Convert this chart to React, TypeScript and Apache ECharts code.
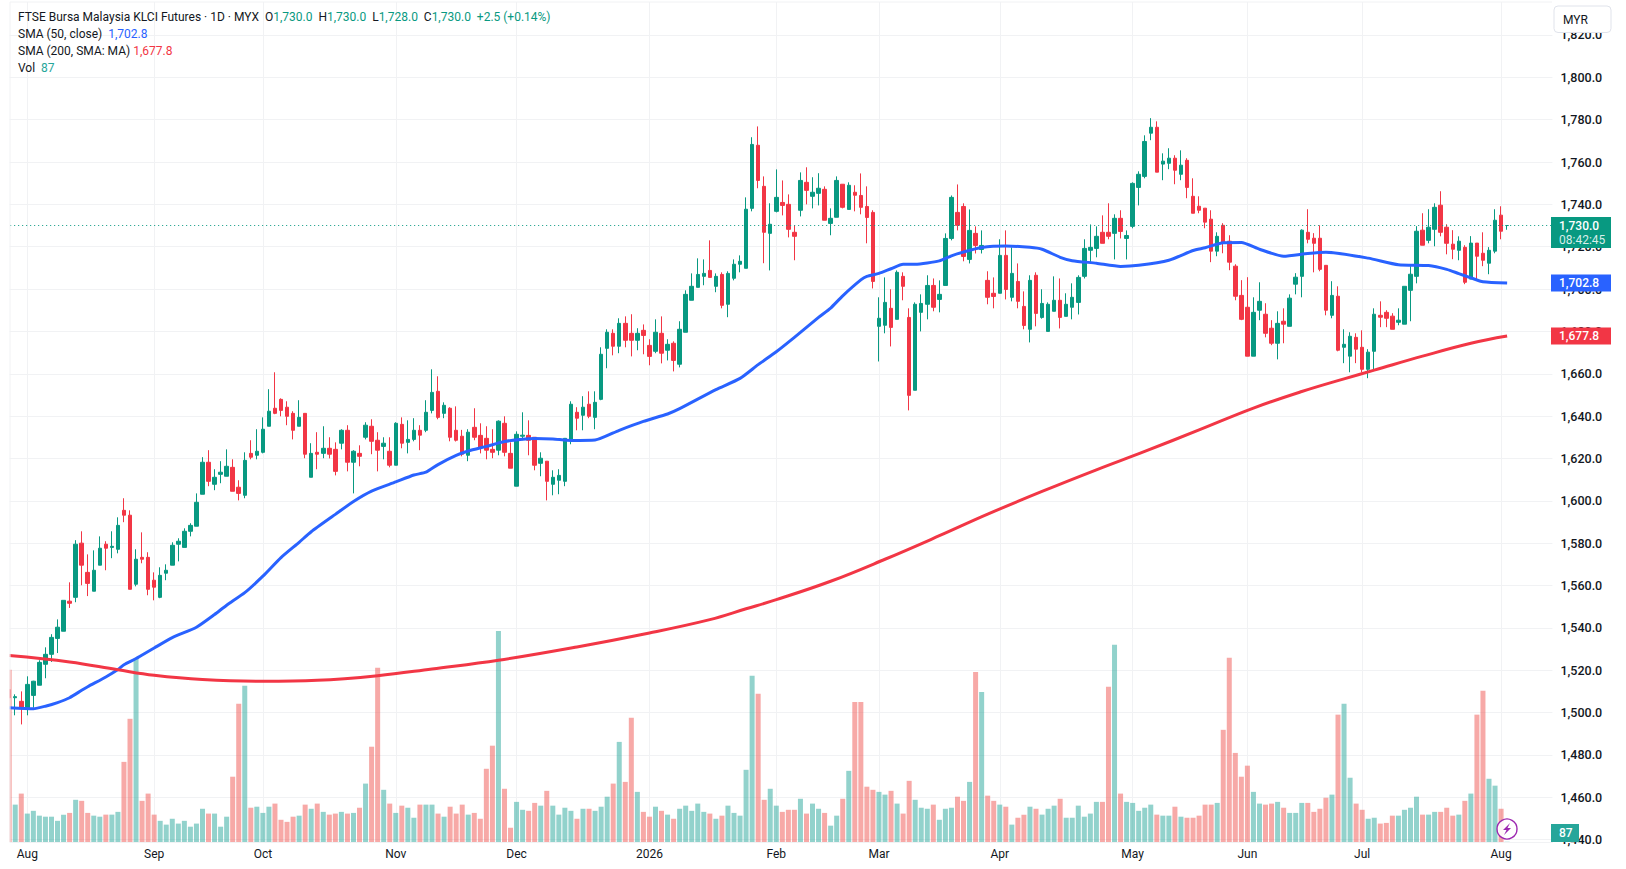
import React, { useEffect, useRef } from "react";
import * as echarts from "echarts";

const UP = "#089981";
const DOWN = "#F23645";
const BLUE = "#2962FF";
const VOL_UP = "rgba(38,166,154,0.5)";
const VOL_DOWN = "rgba(239,83,80,0.5)";
const GRID_COLOR = "#F1F2F4";
const FONT = "Roboto, 'Noto Sans', sans-serif";

// [open, high, low, close]
const candles: number[][] = [
[1510.8,1513,1503,1507],[1507,1508.6,1498.7,1507.5],[1505.3,1510,1494.4,1501.8],[1501.5,1517.1,1498.7,1513.3],[1508.1,1515,1502.3,1514.8],
[1512.9,1524.7,1512.9,1523.7],[1522.8,1530.8,1516.2,1527.5],[1527.5,1537,1523.9,1535.5],[1535,1544,1528.1,1540.3],[1538.4,1553,1538.4,1553],
[1552.6,1561.5,1549.4,1551.6],[1554.4,1581.4,1552.1,1579.5],[1580,1585.6,1560.1,1569.6],[1566.2,1574.7,1555,1561],[1557.3,1576.6,1557.3,1567.2],
[1569.6,1583.2,1569.6,1577.6],[1579.5,1580.9,1567.2,1577.6],[1578,1585.6,1572.9,1578.5],[1577.1,1592.2,1575.2,1588.4],[1595.5,1601.2,1589.9,1593.2],
[1593.2,1595.5,1558.2,1558.2],[1560.6,1577.1,1559.6,1572.4],[1573.3,1585.1,1570.5,1572.4],[1573.3,1575.7,1555.4,1558.2],[1562.5,1566.2,1553,1559.2],
[1554.4,1568.6,1554,1564.8],[1565.8,1570,1562.5,1567.2],[1569.6,1580.4,1569.6,1579],[1579.5,1582.3,1571.4,1580.9],[1578,1587,1578,1585.6],
[1585.6,1589.4,1583.2,1588.4],[1588,1603.5,1588,1599.3],[1603.1,1620.6,1603.1,1618.2],[1618.2,1623.9,1606.9,1609.2],[1607.8,1614.9,1605,1611.1],
[1612.5,1618.7,1608.3,1613.5],[1611.6,1624.3,1611.6,1616.3],[1615.8,1619.6,1604.5,1604.5],[1606.4,1609.7,1600.2,1603.5],[1602.6,1622.9,1601.2,1619.1],
[1622.4,1628.6,1619.6,1620.6],[1621.5,1633.8,1619.6,1623.4],[1622.9,1639.4,1622.4,1633.8],[1635.2,1652.7,1635.2,1642.3],[1643.7,1660.7,1640.9,1641.3],
[1647.9,1648.4,1639.9,1642.7],[1644.2,1647,1635.7,1639.9],[1641.3,1642.3,1629,1633.3],[1635.2,1647.5,1635.2,1639.4],[1641.3,1641.3,1620.1,1622],
[1611.1,1627.2,1611.1,1622.4],[1622.9,1632.4,1614.9,1622],[1622.4,1635.2,1620.1,1624.8],[1624.8,1630,1620,1622],[1624.3,1627.6,1612,1613.9],
[1627.2,1633.8,1624.3,1633.3],[1633.3,1635.7,1613.9,1618.2],[1618.2,1623.9,1603.5,1623.4],[1622.4,1626.2,1616.3,1621],[1630,1637.1,1629,1635.7],
[1635.2,1638.5,1622,1628.1],[1628.6,1632.4,1613.9,1623.9],[1625.7,1630,1619.6,1627.2],[1623.4,1630,1615.8,1616.8],[1616.8,1637.1,1616.8,1636.6],
[1636.1,1639.4,1624.8,1627.2],[1627.6,1638,1622.4,1629],[1629,1639,1628.1,1633.3],[1633.3,1635.7,1623.9,1631],[1633.3,1647.5,1632.4,1641.8],
[1642.7,1662.1,1641.3,1651.2],[1651.7,1658.8,1638.5,1639.4],[1641.3,1646.5,1639,1645.1],[1643.7,1644.2,1628.1,1630],[1633.3,1644.6,1628,1628.6],
[1630.5,1633.5,1621,1622],[1621.5,1633.8,1618.7,1632.4],[1634.7,1643.7,1628.6,1630],[1630.9,1636.6,1622.4,1625.3],[1629.5,1635.2,1619.6,1623.9],
[1624.3,1633.8,1620.1,1622.9],[1623.9,1638,1621.5,1637.6],[1636.6,1639.9,1621,1622.9],[1622.4,1627.6,1615.4,1615.4],[1606.9,1632.8,1606.9,1631.4],
[1630.5,1641.8,1628.6,1631],[1630.9,1638,1621.5,1628.6],[1630,1630,1614.4,1616.8],[1617.7,1622.9,1611.6,1620.1],[1618.7,1618.7,1600.2,1609.2],
[1607.8,1614.4,1602.6,1611.1],[1609.7,1614.9,1603.1,1612],[1609.2,1629.5,1606.9,1629.5],[1628.6,1647,1626.7,1645.6],[1641.8,1644.2,1633.3,1639],
[1640.4,1649.4,1633.3,1644.2],[1645.6,1651.7,1639,1639.9],[1639.4,1651.7,1633.8,1646.5],[1647.9,1672.5,1647.5,1669.2],[1672,1681,1662.6,1679.6],
[1679.1,1681,1668.7,1673],[1673,1686.2,1669.7,1683.8],[1683.8,1687.1,1672.5,1675.8],[1679.1,1688.1,1668.2,1675.8],[1675.8,1681.5,1671.1,1679.1],
[1680.5,1683.3,1669.2,1678.1],[1673.4,1676.3,1664,1668.2],[1670.6,1685.7,1669.7,1679.6],[1679.1,1687.1,1664.9,1669.7],[1671.1,1676.3,1666.3,1673.9],
[1674.4,1675.3,1661.1,1666.3],[1664.5,1684.8,1663,1681],[1679.6,1699.4,1679.6,1697.5],[1694.7,1707.4,1694.7,1701.3],[1700.8,1714.5,1700.8,1706.9],
[1706,1714,1701.8,1707.4],[1708.8,1723,1705.5,1705.5],[1701.3,1707.4,1698.5,1706],[1706.9,1707.9,1690.9,1692.3],[1692.8,1708.4,1686.7,1707.4],
[1705.1,1714,1704.1,1711.7],[1711.7,1715.9,1707.9,1713.1],[1709.8,1743.3,1709.8,1737.7],[1738.1,1771.7,1736.7,1768.3],[1767.9,1776.8,1747.6,1751.3],
[1748.5,1753.2,1712.2,1726.8],[1726.3,1740.5,1708.8,1730.6],[1736.7,1756.5,1736.2,1743.3],[1740.9,1751.3,1734.8,1739.5],[1740,1744.7,1724.4,1728.2],
[1726.8,1730.1,1713.6,1724.9],[1737.2,1755.1,1734.3,1751.3],[1750.4,1757.5,1740,1746.6],[1743.8,1752.8,1738.1,1745.7],[1745.2,1754.7,1739.5,1747.6],
[1747.1,1748.5,1732.5,1732.5],[1731,1738.1,1725.4,1733.4],[1733.9,1753.2,1733.9,1751.3],[1749.5,1749.5,1738.1,1738.6],[1737.6,1750.4,1737.6,1749],
[1745.7,1749,1736.7,1744.3],[1744.2,1754.6,1735.3,1738.6],[1739,1748.5,1721.6,1733.8],[1736.2,1737.2,1700.3,1703.6],[1682.4,1696.1,1665.8,1686.2],
[1682.9,1705.5,1679.1,1693.7],[1690.9,1699.9,1672.9,1681.9],[1685.7,1708.8,1685.7,1707.9],[1706,1707.9,1694.7,1701.3],[1686.6,1690.9,1642.7,1649.8],
[1652.2,1693.7,1652.2,1692.8],[1689,1697.5,1680,1693.2],[1692.8,1706.5,1685.7,1701.7],[1701.7,1705,1689.5,1691.4],[1695.1,1704.1,1689,1697.5],
[1701.7,1726.3,1701.7,1723.9],[1723.9,1744.2,1723,1743.3],[1736.2,1749.4,1727.7,1730.1],[1739,1740.5,1713.1,1715.4],[1714,1737.6,1712.1,1727.7],
[1726.3,1729.6,1716.8,1720.6],[1718.7,1727.7,1716.8,1720.6],[1704.1,1708.4,1692.8,1696.1],[1698,1705.5,1690.9,1696.5],[1698,1723.5,1698,1715.9],
[1715.9,1727.7,1695.1,1699.8],[1696.1,1719.7,1694.2,1707.4],[1703.6,1712.1,1690.9,1694.2],[1691.8,1698.9,1681,1682.8],[1681,1706.5,1674.8,1704.1],
[1706.5,1707.9,1682.4,1688.5],[1686.6,1699.9,1686,1693.2],[1680,1693.7,1680,1692.8],[1689.5,1706,1689.5,1694.7],[1694.7,1705,1681.4,1686.6],
[1687.1,1698,1687.1,1692.8],[1691.4,1702.7,1685.7,1696.1],[1693.7,1706.5,1688,1705.5],[1706,1723.5,1705,1719.2],[1718.3,1730.5,1712.6,1719.7],
[1719.2,1729.6,1715,1724.9],[1726.8,1734.8,1721.6,1721.6],[1726.8,1740.5,1723.5,1724.9],[1726.3,1735.3,1714,1733.4],[1733.4,1737.2,1723.9,1727.2],
[1723.9,1727.7,1714,1725.3],[1729.6,1750.4,1728.7,1749.9],[1748,1755.6,1739.5,1754.2],[1753.2,1772.6,1752.3,1769.7],[1773.6,1780.7,1770.3,1776.4],
[1776.4,1779.2,1755.2,1755.2],[1759,1764.1,1751.4,1760.4],[1759.4,1766.5,1756.6,1761.8],[1761.8,1763.2,1749.5,1756.1],[1754.2,1765.5,1751.4,1758.5],
[1760.8,1761.8,1742.9,1748],[1743.8,1752.3,1735.8,1735.8],[1739.1,1743.8,1735.8,1737.2],[1738.2,1738.2,1728.7,1731.6],[1733,1737.2,1712.7,1717.9],
[1717.9,1726.8,1715.5,1724.9],[1730.1,1731.1,1716.9,1722.1],[1722.6,1725.4,1708.9,1712.7],[1710.8,1711.7,1694.7,1696.6],[1697,1704.2,1685.3,1685.7],
[1691.4,1705.6,1668.3,1668.3],[1668.3,1696.1,1668.3,1689],[1690,1703.2,1685.3,1694.2],[1688.1,1693.3,1677.2,1679.1],[1681.5,1685.3,1673.5,1674.4],
[1674.4,1689.5,1666.8,1683.8],[1684.8,1690.9,1674.4,1683.4],[1682.4,1697.5,1682.4,1695.7],[1702.3,1707.5,1697.5,1705.6],[1706,1728.2,1696.1,1727.8],
[1726.8,1737.7,1721.6,1723.5],[1724,1726.4,1707.9,1721.6],[1724,1730.1,1708.4,1709.3],[1711.2,1711.2,1687.6,1690],[1687.6,1703.7,1686.2,1697],
[1696.6,1701.3,1670.6,1671.1],[1672.5,1681,1665,1673.9],[1668.3,1679.6,1660.7,1677.7],[1677.2,1679.1,1665,1671.6],[1672.5,1680.5,1660.7,1662.1],
[1662.1,1671.6,1657.9,1670.2],[1670.6,1690.9,1661.7,1688.1],[1687.6,1694.2,1682,1686.7],[1689,1690,1682,1686.2],[1687.2,1688.6,1681,1681],
[1684.3,1690.9,1682.9,1685.3],[1683.4,1701.3,1683.4,1701.3],[1699.4,1710.8,1684.8,1707],[1706,1729.7,1702.7,1727.3],[1727.8,1735.8,1720.7,1720.7],
[1723,1737.7,1721.6,1729.2],[1728.2,1740.5,1720.2,1738.6],[1739.6,1746.2,1724.9,1726.8],[1729.2,1730.6,1716.4,1721.6],[1721.2,1727.8,1714.1,1718.8],
[1718.3,1724.9,1713.6,1722.6],[1719.7,1720.7,1702.3,1703.2],[1704.7,1725,1704.7,1721.7],[1721.7,1721.7,1704.7,1715.5],[1716.9,1726.8,1710.8,1713.6],
[1712.2,1719.8,1707,1718.3],[1717.9,1737.7,1716.9,1732.5],[1734.9,1739.1,1723.5,1727.3],[1730,1730,1728,1730],
];

const volumes: number[] = [
5074,1164,1484,904,984,844,814,814,694,874,924,1304,1274,924,844,814,874,874,954,2404,
3654,5414,1274,1484,874,694,584,754,614,694,524,614,1044,904,904,524,814,1974,4094,4614,
1074,1104,924,1104,1194,724,664,814,844,1164,1044,1194,954,874,904,954,904,924,1074,1774,
2844,5134,1594,1194,924,1134,1074,784,1164,1164,1164,904,814,1104,904,1164,874,924,754,2204,
2874,6204,1624,494,1244,1014,984,1214,1134,1564,1134,874,1074,984,754,1044,1044,984,1104,1394,
1774,2984,1824,3684,1534,954,814,1104,984,874,754,1044,1134,984,1194,954,904,754,844,1134,
924,844,2174,4904,4384,1304,1624,1134,954,1014,1014,1334,904,1194,1044,924,554,844,1334,2144,
4144,4144,1684,1594,1534,1454,1564,1194,904,1854,1304,1074,1044,1164,724,1044,1074,1394,1274,1824,
5014,4434,1424,1274,1164,1104,584,784,874,1104,1044,874,1044,1134,1334,784,784,1134,814,904,
1244,1244,4584,5804,1484,1244,1214,984,1074,1164,874,844,844,1104,814,784,784,844,1164,1164,
1214,3334,5424,2664,1974,2294,1534,1194,1164,1194,1244,1074,924,924,1214,1214,954,1044,1364,1454,
3774,4094,1944,1194,1014,754,784,614,634,844,844,1014,1074,1394,874,874,954,954,1074,844,
874,1274,1484,3774,4464,1914,1714,1044,87,
];

// [bar index, value] at intervals
const sma50Points: number[][] = [
[0,1502.3],[4,1501.8],[6,1503],[8,1504.7],[10,1507],[12,1510.5],[13,1512.2],[16,1516.8],[18,1520.3],[19,1522.6],[21,1525.5],[24,1530.5],[27,1535.4],[31,1540.3],[34,1546.3],[36,1550.7],[39,1556.6],[42,1564.4],[45,1573.2],[48,1580.4],[50,1585.4],[54,1593.6],[57,1599.7],[60,1604.6],[64,1608.9],[67,1612.2],[69,1613.5],[71,1617.1],[74,1621.4],[76,1623.5],[79,1625.7],[82,1628],[85,1629.1],[87,1629.4],[90,1629.2],[93,1628.5],[97,1628.7],[101,1633.3],[105,1637.5],[109,1641],[111,1643.5],[117,1652.5],[121,1657.8],[124,1664.3],[127,1670.4],[130,1677.2],[134,1686.6],[136,1691],[138,1696.8],[141,1704.3],[142,1706],[144,1707.4],[146,1709.6],[148,1711.7],[150,1711.7],[154,1713.3],[156,1715.7],[158,1717.5],[161,1719.6],[165,1720.3],[169,1719.7],[171,1718.8],[174,1715],[176,1713.4],[180,1712.2],[184,1710.7],[187,1711.2],[192,1713.6],[196,1718.2],[198,1719.5],[201,1721.9],[204,1722],[207,1718.8],[211,1715.5],[215,1716.8],[218,1717.4],[225,1714.6],[230,1711.5],[235,1711.1],[238,1709.3],[240,1707.3],[242,1705.3],[244,1703.4],[248,1702.8],
];
const sma200Points: number[][] = [
[0,1526.9],[10,1523.9],[18,1520.2],[24,1517.6],[32,1515.6],[42,1514.75],[51,1515.2],[61,1517.4],[70,1520.6],[81,1524.7],[94,1531],[106,1537.6],[116,1543.9],[122,1549],[127,1553.3],[136,1562],[145,1572.4],[154,1583.5],[162,1593.7],[171,1604.4],[180,1614.6],[188,1623.3],[197,1633.5],[206,1643.8],[214,1651.6],[221,1657.6],[226,1661.7],[234,1668.3],[242,1674.4],[248,1677.8],
];

const monthStarts: [number, string][] = [
[3,"Aug"],[24,"Sep"],[42,"Oct"],[64,"Nov"],[84,"Dec"],[106,"2026"],[127,"Feb"],[144,"Mar"],[164,"Apr"],[186,"May"],[205,"Jun"],[224,"Jul"],[247,"Aug"],
];
const SLOTS = 256;
const categories: string[] = Array.from({ length: SLOTS }, () => "");
monthStarts.forEach(([i, m]) => { categories[i] = m; });

const LAST = 1730.0;
const SMA50_LAST = 1702.8;
const SMA200_LAST = 1677.8;
const VOL_LAST = 87;
const COUNTDOWN = "08:42:45";

const GRID_LEFT = 6.18;
const GRID_W = 1546.24;
const fmt = (v: number) => v.toLocaleString("en-US", { minimumFractionDigits: 1, maximumFractionDigits: 1 });

export default function App() {
  const ref = useRef<HTMLDivElement>(null);
  useEffect(() => {
    const chart = echarts.init(ref.current!, undefined, { renderer: "svg" });
    const isUp = (c: number[]) => c[3] >= c[0];
    const option: any = {
      animation: false,
      backgroundColor: "#ffffff",
      textStyle: { fontFamily: FONT },
      grid: [
        { left: GRID_LEFT, width: GRID_W, top: -7.4, height: 847, containLabel: false, outerBoundsMode: "none" },
        { left: GRID_LEFT, width: GRID_W, top: 2, height: 840, containLabel: false, outerBoundsMode: "none" },
      ],
      xAxis: [
        { type: "category", gridIndex: 0, data: categories, show: false },
        {
          type: "category", gridIndex: 1, data: categories,
          axisLine: { show: true, lineStyle: { color: GRID_COLOR, width: 1 } },
          axisTick: { show: false },
          axisLabel: {
            interval: (_i: number, v: string) => v !== "",
            color: "#131722", fontFamily: FONT, fontSize: 12, margin: 6,
          },
          splitLine: {
            show: true, alignWithLabel: true,
            interval: (_i: number, v: string) => v !== "",
            lineStyle: { color: GRID_COLOR, width: 1 },
          },
        },
      ],
      yAxis: [
        {
          type: "value", gridIndex: 0, position: "right", min: 1440, max: 1840, interval: 20,
          axisLine: { show: false }, axisTick: { show: false },
          axisLabel: {
            color: "#131722", fontFamily: FONT, fontSize: 12.5, fontWeight: 500, margin: 8,
            formatter: (v: number) => (v >= 1840 ? "" : fmt(v)),
          },
          splitLine: { show: true, lineStyle: { color: GRID_COLOR, width: 1 } },
        },
        { type: "value", gridIndex: 1, min: 80, max: 24447, show: false, splitLine: { show: false } },
      ],
      series: [
        {
          type: "bar", name: "Vol", xAxisIndex: 1, yAxisIndex: 1, barWidth: 5, z: 1,
          data: volumes.map((v, i) => ({
            value: v,
            itemStyle: { color: isUp(candles[i]) ? VOL_UP : VOL_DOWN },
          })),
        },
        {
          type: "candlestick", name: "Price", xAxisIndex: 0, yAxisIndex: 0, barWidth: 4, z: 3,
          itemStyle: { color: UP, color0: DOWN, borderColor: UP, borderColor0: DOWN, borderWidth: 1 },
          data: candles.map((c) => [c[0], c[3], c[2], c[1]]),
          markLine: {
            silent: true, symbol: "none", animation: false,
            label: { show: false },
            lineStyle: { color: UP, type: [1, 3], width: 1 },
            data: [{ yAxis: LAST }],
          },
        },
        {
          type: "line", name: "SMA 50", xAxisIndex: 0, yAxisIndex: 0, data: sma50Points, showSymbol: false, z: 4, smooth: 0.2,
          lineStyle: { color: BLUE, width: 3, join: "round" }, itemStyle: { color: BLUE },
        },
        {
          type: "line", name: "SMA 200", xAxisIndex: 0, yAxisIndex: 0, data: sma200Points, showSymbol: false, z: 4, smooth: 0.4,
          lineStyle: { color: DOWN, width: 3, join: "round" }, itemStyle: { color: DOWN },
        },
      ],
    };
    chart.setOption(option);

    const py = (v: number) => chart.convertToPixel({ yAxisIndex: 0 }, v) as number;
    const TAG_X = 1551;
    const TAG_W = 60;
    const tag = (val: number, color: string) => [
      { type: "rect", z: 50, shape: { x: TAG_X, y: py(val) - 8.5, width: TAG_W, height: 17 }, style: { fill: color } },
      { type: "text", z: 51, x: TAG_X + 8, y: py(val), style: { text: fmt(val), fill: "#fff", font: `500 12px ${FONT}`, verticalAlign: "middle" } },
    ];
    const sz = `12px ${FONT}`;
    const header =
      "{k|FTSE Bursa Malaysia KLCI Futures · 1D · MYX  O}{u|1,730.0}{k|  H}{u|1,730.0}{k|  L}{u|1,728.0}{k|  C}{u|1,730.0}{u|  +2.5 (+0.14%)}";
    const hdrText = (y: number, text: string, rich: any) => ({
      type: "text", z: 52, x: 18, y,
      style: { text, rich, font: sz, verticalAlign: "middle", fill: "#131722" },
    });
    const k = { fill: "#131722", font: sz };
    const iconX = 1507;
    const iconY = 829;

    chart.setOption({
      graphic: [
        { type: "rect", z: 40, shape: { x: 0, y: 0, width: 9.6, height: 869 }, style: { fill: "#fff" } },
        { type: "rect", z: 40, shape: { x: 0, y: 0, width: 1552, height: 2 }, style: { fill: "#fff" } },
        { type: "line", z: 41, shape: { x1: 10, y1: 2, x2: 10, y2: 842 }, style: { stroke: GRID_COLOR, lineWidth: 1 } },
        { type: "line", z: 41, shape: { x1: 10, y1: 2, x2: 1552, y2: 2 }, style: { stroke: GRID_COLOR, lineWidth: 1 } },
        hdrText(17, header, { k, u: { fill: UP, font: sz } }),
        hdrText(34, "{k|SMA (50, close)  }{b|1,702.8}", { k, b: { fill: BLUE, font: sz } }),
        hdrText(51, "{k|SMA (200, SMA: MA) }{r|1,677.8}", { k, r: { fill: DOWN, font: sz } }),
        hdrText(68, "{k|Vol  }{u|87}", { k, u: { fill: "#26A69A", font: sz } }),
        // MYR button
        { type: "rect", z: 50, shape: { x: 1554, y: 6, width: 57, height: 26.5, r: 4 }, style: { fill: "#fff", stroke: "#E0E3EB", lineWidth: 1 } },
        { type: "text", z: 51, x: 1563, y: 19.5, style: { text: "MYR", fill: "#131722", font: sz, verticalAlign: "middle" } },
        // last-price tag
        { type: "rect", z: 50, shape: { x: TAG_X, y: py(LAST) - 8.5, width: TAG_W, height: 31 }, style: { fill: UP } },
        { type: "text", z: 51, x: TAG_X + 8, y: py(LAST), style: { text: fmt(LAST), fill: "#fff", font: `500 12px ${FONT}`, verticalAlign: "middle" } },
        { type: "text", z: 51, x: TAG_X + 8, y: py(LAST) + 14, style: { text: COUNTDOWN, fill: "rgba(255,255,255,0.85)", font: sz, verticalAlign: "middle" } },
        ...tag(SMA50_LAST, BLUE),
        ...tag(SMA200_LAST, DOWN),
        // volume tag
        { type: "rect", z: 50, shape: { x: TAG_X, y: 824, width: 28, height: 18 }, style: { fill: "#26A69A" } },
        { type: "text", z: 51, x: TAG_X + 8, y: 833, style: { text: String(VOL_LAST), fill: "#fff", font: `500 12px ${FONT}`, verticalAlign: "middle" } },
        // lightning badge
        { type: "circle", z: 50, shape: { cx: iconX, cy: iconY, r: 10 }, style: { fill: "rgba(255,255,255,0.9)", stroke: "#9C27B0", lineWidth: 1.4 } },
        { type: "polygon", z: 51, shape: { points: [[iconX + 3, iconY - 6], [iconX - 4, iconY + 1], [iconX - 0.5, iconY + 1], [iconX - 3, iconY + 6], [iconX + 4, iconY - 1], [iconX + 0.5, iconY - 1]] }, style: { fill: "#9C27B0" } },
      ],
    });
    return () => chart.dispose();
  }, []);
  return <div ref={ref} style={{ position: "fixed", left: 0, top: 0, width: 1626, height: 869, background: "#fff" }} />;
}
